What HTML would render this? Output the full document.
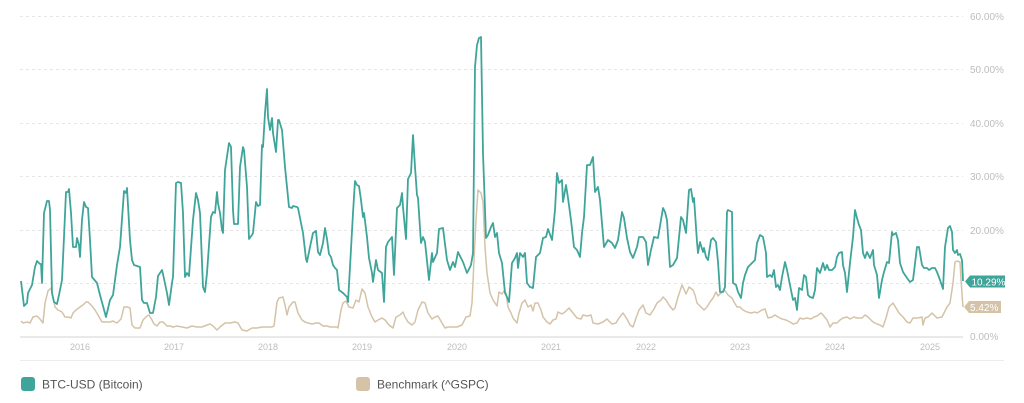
<!DOCTYPE html>
<html>
<head>
<meta charset="utf-8">
<style>
  html,body{margin:0;padding:0;background:#fff;}
  body{width:1024px;height:403px;overflow:hidden;font-family:"Liberation Sans",sans-serif;}
  svg{display:block;}
</style>
</head>
<body>
<svg width="1024" height="403" viewBox="0 0 1024 403" xmlns="http://www.w3.org/2000/svg">
  <rect width="1024" height="403" fill="#ffffff"/>
  <!-- grid -->
  <g stroke="#e6e6e6" stroke-width="1" stroke-dasharray="3,3">
    <line x1="20" y1="16.5" x2="963" y2="16.5"/>
    <line x1="20" y1="69.5" x2="963" y2="69.5"/>
    <line x1="20" y1="123.5" x2="963" y2="123.5"/>
    <line x1="20" y1="176.5" x2="963" y2="176.5"/>
    <line x1="20" y1="230.5" x2="963" y2="230.5"/>
    <line x1="20" y1="283.5" x2="963" y2="283.5"/>
  </g>
  <line x1="20" y1="337" x2="963" y2="337" stroke="#dcdcdc" stroke-width="1.2"/>
  <line x1="20" y1="360.5" x2="1004" y2="360.5" stroke="#ececec" stroke-width="1"/>
  <!-- y labels -->
  <g font-size="10" fill="#bdbdbd" font-family="Liberation Sans, sans-serif">
    <text x="970" y="20">60.00%</text>
    <text x="970" y="73">50.00%</text>
    <text x="970" y="127">40.00%</text>
    <text x="970" y="180">30.00%</text>
    <text x="970" y="234">20.00%</text>
    <text x="970" y="340">0.00%</text>
  </g>
  <!-- x labels -->
  <g font-size="9" fill="#bdbdbd" text-anchor="middle" font-family="Liberation Sans, sans-serif">
    <text x="80" y="350">2016</text>
    <text x="174" y="350">2017</text>
    <text x="268" y="350">2018</text>
    <text x="362" y="350">2019</text>
    <text x="457" y="350">2020</text>
    <text x="551" y="350">2021</text>
    <text x="646" y="350">2022</text>
    <text x="740" y="350">2023</text>
    <text x="835" y="350">2024</text>
    <text x="930" y="350">2025</text>
  </g>
  <!-- benchmark -->
  <polyline fill="none" stroke="#d4c3a7" stroke-width="1.5" stroke-linejoin="round" points="21,321 23,323 27,322 30,323 33,317 37,316 40,319 43,323 45,303 48,291 51,288 53,297 55,307 58,310 62,312 65,317 68,317 71,318 73,313 76,310 80,307 83,305 86,302 88,302 92,306 95,310 98,315 102,322 106,322 110,322 113,321 117,323 121,319 124,307 127,307 130,308 132,325 135,328 140,328 143,320 147,316 149,315 152,320 154,324 157,326 160,322 163,322 167,326 170,326 173,327 177,326 182,327 187,328 192,326 197,327 202,327 207,325 210,324 213,326 217,330 220,327 225,323 230,323 235,322 238,323 242,330 247,331 252,328 257,328 262,327 267,327 272,327 274,326 277,302 279,298 283,297 285,305 287,315 289,307 293,302 295,302 298,313 302,320 305,322 308,323 312,324 316,323 319,323 323,326 327,326 330,327 333,327 337,327 338,328 341,310 343,303 346,301 349,307 353,308 356,300 359,302 362,289 365,293 368,307 372,317 375,322 378,320 382,318 385,320 389,325 393,328 396,317 400,315 403,312 405,317 408,322 412,325 415,322 418,310 422,302 425,303 428,313 432,319 435,317 438,316 442,323 445,328 448,327 452,327 457,327 462,325 466,317 470,316 472,303 474,260 476,220 478,190 481,193 483,202 485,247 487,273 490,293 493,300 497,306 499,292 502,294 504,291 506,293 508,307 511,313 513,318 517,323 519,313 522,303 525,300 528,307 531,305 533,311 535,303 538,303 541,310 543,317 547,322 550,324 553,320 556,319 558,312 562,314 565,312 569,308 573,313 577,318 581,319 583,315 587,316 591,315 593,323 598,324 603,322 607,319 612,324 616,323 619,318 623,313 627,319 630,325 633,327 636,318 639,310 643,305 646,313 650,315 654,309 657,303 661,300 663,297 666,300 669,305 673,310 675,308 678,297 682,285 683,287 686,294 689,287 693,290 695,295 697,303 701,307 704,310 707,307 710,302 713,298 716,292 718,296 721,293 724,290 726,292 728,295 732,298 734,302 737,307 740,307 743,310 747,312 751,313 755,312 757,313 762,310 765,309 768,318 772,317 775,315 778,317 782,319 786,320 790,322 793,324 797,323 800,318 803,319 807,318 811,319 814,317 817,316 821,313 823,315 827,320 830,327 833,323 837,323 840,320 843,318 847,317 850,319 854,317 857,318 862,318 865,315 868,317 873,322 877,324 880,325 883,327 886,318 889,307 893,303 896,308 899,313 903,317 907,322 910,323 913,318 918,318 922,317 923,325 925,318 928,317 932,313 934,315 937,318 942,317 944,313 947,307 950,303 953,283 955,262 957,261 960,262 961,280 963,307"/>
  <!-- BTC -->
  <polyline fill="none" stroke="#3fa59a" stroke-width="1.8" stroke-linejoin="round" points="21,281 24,306 27,303 28,293 32,285 35,267 37,261 40,264 41,264 42,283 44,213 47,201 49,201 50,210 52,293 54,302 57,304 59,295 62,280 64,237 66,192 68,192 69,189 71,213 73,247 76,247 77,238 79,245 80,257 82,220 84,202 86,207 88,208 90,240 92,277 97,283 100,295 106,317 110,300 113,295 117,265 120,247 124,191 126,193 127,188 130,240 132,260 134,265 140,267 142,300 144,303 147,303 150,313 153,313 156,297 158,276 162,270 163,274 167,293 169,305 172,283 173,277 176,183 178,182 181,183 183,213 185,277 187,273 189,276 193,220 196,193 198,200 200,213 203,287 205,292 207,273 211,217 213,212 215,213 217,192 218,203 220,213 222,230 223,233 225,170 229,143 231,147 233,210 234,224 238,224 240,167 243,147 244,150 247,187 249,239 252,235 253,233 256,202 258,206 260,205 262,145 263,147 265,113 267,89 268,117 270,130 272,118 273,133 276,152 278,120 279,120 282,130 285,167 289,207 292,208 293,206 297,207 298,208 303,233 306,259 307,262 310,247 313,233 316,231 318,252 320,255 323,243 325,228 327,239 329,254 331,257 333,265 335,268 337,270 339,290 343,293 347,297 348,302 350,267 353,213 355,181 357,185 359,186 361,200 363,217 364,213 367,237 369,258 372,273 373,282 376,260 378,270 382,273 384,302 386,247 388,242 392,237 394,275 397,208 400,205 402,193 403,207 406,239 408,179 411,173 413,135 415,167 417,195 418,198 421,243 423,237 425,242 429,280 432,253 433,262 437,253 439,229 443,228 447,260 450,270 453,262 455,267 458,252 461,258 463,262 467,273 471,265 473,253 475,67 477,45 479,38 481,37 483,153 486,238 488,235 491,227 493,223 495,237 497,233 499,253 502,263 505,293 507,297 509,302 512,263 515,258 517,253 518,268 520,253 523,257 525,253 527,283 530,287 533,288 536,257 540,253 543,238 546,237 548,229 552,240 555,210 557,173 559,183 562,180 563,202 566,185 568,198 571,220 574,247 577,250 580,257 582,233 584,217 587,165 590,165 593,157 595,192 598,187 600,200 604,247 608,240 612,243 615,248 618,240 622,212 624,218 627,238 630,252 633,258 637,247 639,237 643,237 646,242 648,265 651,250 654,237 658,238 663,208 665,212 667,220 670,267 673,265 677,258 681,217 683,220 686,233 689,190 691,189 693,202 694,198 697,242 698,253 700,242 703,252 704,248 706,257 708,260 711,240 713,238 716,242 718,262 720,292 723,292 725,287 727,212 728,210 732,212 733,283 736,285 738,292 741,298 743,283 745,275 748,267 752,263 755,260 757,243 760,235 763,237 766,253 767,277 770,275 772,277 774,270 776,287 778,285 780,290 782,277 785,262 787,270 790,285 793,300 795,298 797,310 799,288 802,290 804,275 806,277 808,295 810,297 813,298 815,290 817,268 820,273 823,263 825,270 827,265 829,270 832,270 835,267 837,257 839,253 842,252 843,265 845,273 847,292 850,263 853,237 855,210 857,218 859,225 861,230 863,253 865,258 867,252 870,258 873,250 874,265 877,275 879,298 882,280 884,272 887,262 889,263 892,232 893,235 896,233 898,240 900,263 903,272 907,278 910,282 913,280 917,247 919,247 922,265 924,268 927,268 929,270 932,268 935,268 937,272 940,280 943,289 945,247 948,228 950,226 952,232 953,250 955,253 957,250 958,255 960,254 962,260 963,281"/>
  <!-- end tags -->
  <path d="M965,281.5 L970,275.5 L1005,275.5 L1005,287.5 L970,287.5 Z" fill="#3fa59a"/>
  <text x="971.5" y="285.5" font-size="10" fill="#ffffff" font-family="Liberation Sans, sans-serif">10.29%</text>
  <path d="M964,307 L969,301 L1001,301 L1001,313 L969,313 Z" fill="#d4c3a7"/>
  <text x="970" y="311" font-size="10" fill="#ffffff" font-family="Liberation Sans, sans-serif">5.42%</text>
  <!-- legend -->
  <rect x="21" y="377" width="14" height="14" rx="3" fill="#3fa59a"/>
  <text x="42" y="388.5" font-size="12" fill="#555555" font-family="Liberation Sans, sans-serif">BTC-USD (Bitcoin)</text>
  <rect x="356" y="377" width="14" height="14" rx="3" fill="#d4c3a7"/>
  <text x="377" y="388.5" font-size="12" fill="#555555" font-family="Liberation Sans, sans-serif">Benchmark (^GSPC)</text>
</svg>
</body>
</html>
